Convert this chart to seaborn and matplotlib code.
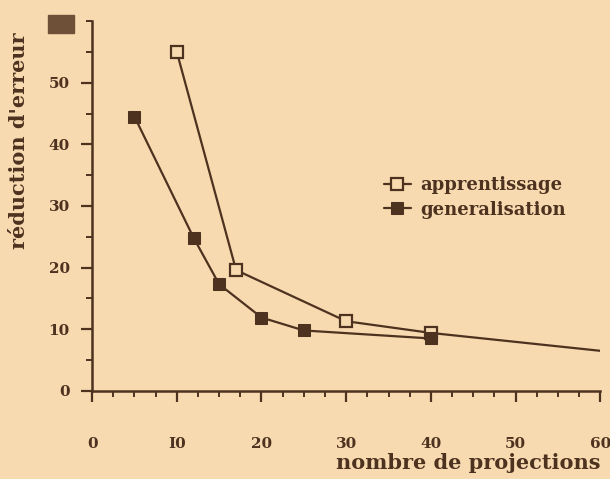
import pandas as pd
import seaborn as sns
import matplotlib.pyplot as plt
from matplotlib.ticker import MultipleLocator
from matplotlib.patches import Rectangle

# values
appr_x = [10, 17, 30, 40, 60]
appr_y = [55, 19.6, 11.3, 9.4, 6.5]
gen_x = [5, 12, 15, 20, 25, 40]
gen_y = [44.5, 24.8, 17.3, 11.9, 9.8, 8.5]

x_ticks = [0, 10, 20, 30, 40, 50, 60]
y_ticks = [0, 10, 20, 30, 40, 50]

bg = '#f8dab0'
ink = '#4e3220'

sns.set_style('ticks')
plt.rcParams['font.family'] = ['DejaVu Serif']

fig = plt.figure(figsize=(6.1, 4.79), dpi=100, facecolor=bg)
ax = fig.add_axes([0.151, 0.184, 0.833, 0.772], facecolor=bg)

appr = pd.DataFrame({'x': appr_x, 'y': appr_y})
gen = pd.DataFrame({'x': gen_x, 'y': gen_y})

# the last apprentissage point carries no marker in the original
sns.lineplot(data=appr, x='x', y='y', ax=ax, color=ink, lw=1.6,
             marker='s', markersize=8, markerfacecolor=bg,
             markeredgecolor=ink, markeredgewidth=1.6,
             markevery=[0, 1, 2, 3], label='apprentissage')
sns.lineplot(data=gen, x='x', y='y', ax=ax, color=ink, lw=1.6,
             marker='s', markersize=8, markerfacecolor=ink,
             markeredgecolor=ink, label='generalisation')

ax.set_xlim(0, 60)
ax.set_ylim(0, 60)
ax.set_xticks(x_ticks)
ax.set_yticks(y_ticks)
ax.xaxis.set_minor_locator(MultipleLocator(2.5))
ax.yaxis.set_minor_locator(MultipleLocator(5))
ax.set_xticklabels(['0', 'I0', '20', '30', '40', '50', '60'])
ax.set_yticklabels([str(v) for v in y_ticks])

for side in ['top', 'right']:
    ax.spines[side].set_visible(False)
for side in ['left', 'bottom']:
    ax.spines[side].set_color(ink)
    ax.spines[side].set_linewidth(1.8)

ax.tick_params(axis='both', which='major', colors=ink, length=8, width=1.6,
               labelsize=11, labelcolor=ink)
ax.tick_params(axis='both', which='minor', colors=ink, length=4, width=1.4)
ax.tick_params(axis='x', which='major', pad=25)
ax.tick_params(axis='y', which='major', pad=8)
for t in ax.get_xticklabels() + ax.get_yticklabels():
    t.set_fontweight('bold')

ax.set_xlabel('nombre de projections', fontsize=15, color=ink,
              fontweight='bold', loc='right', labelpad=2)
ax.set_ylabel("réduction d'erreur", fontsize=15, color=ink,
              fontweight='bold', loc='top')
ax.yaxis.set_label_coords(-0.125, 0.97)

leg = ax.legend(loc='upper left', bbox_to_anchor=(0.56, 0.6), frameon=False,
                fontsize=13, handlelength=1.5, handletextpad=0.5,
                labelspacing=0.35, borderaxespad=0)
for t in leg.get_texts():
    t.set_color(ink)
    t.set_fontweight('bold')

# dark block from the scan at the top of the y axis
fig.patches.append(Rectangle((48 / 610, 1 - 33 / 479), 26 / 610, 18 / 479,
                             transform=fig.transFigure, color='#6e5038'))

fig.savefig('out.png', dpi=100, facecolor=bg)
